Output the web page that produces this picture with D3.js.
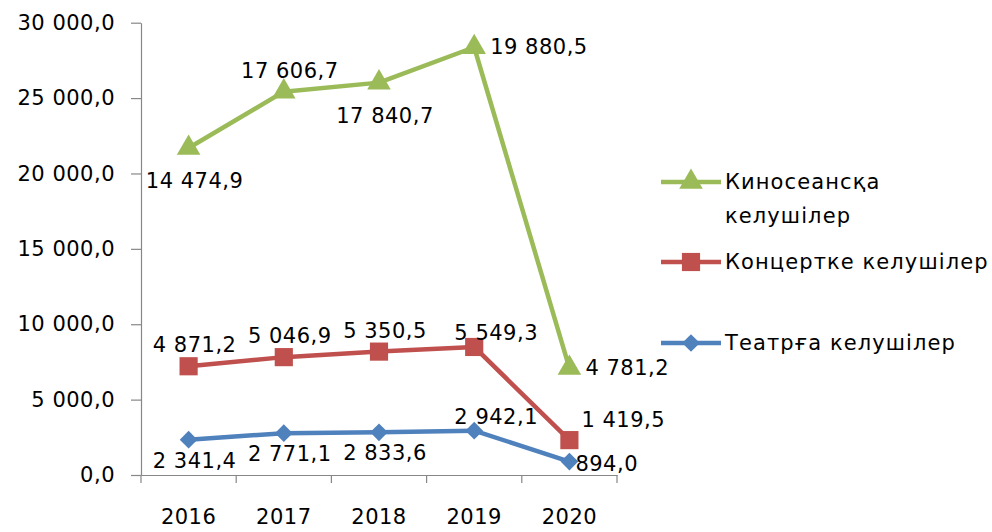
<!DOCTYPE html>
<html>
<head>
<meta charset="utf-8">
<script src="https://cdn.jsdelivr.net/npm/d3@7"></script>
<style>
  body { margin: 0; background: #fff; }
  text { font-family: "DejaVu Sans", sans-serif; fill: #000; letter-spacing: 0.5px; }
</style>
</head>
<body>
<div id="container"></div>
<script>
/* DATA */
const years = ["2016", "2017", "2018", "2019", "2020"];
const theatre = [2341.4, 2771.1, 2833.6, 2942.1, 894.0];
const concert = [4871.2, 5046.9, 5350.5, 5549.3, 1419.5];
const cinema = [14474.9, 17606.7, 17840.7, 19880.5, 4781.2];
const seriesNames = ["Театрға келушілер", "Концертке келушілер", "Киносеансқа келушілер"];
const yTicks = [0, 5000, 10000, 15000, 20000, 25000, 30000];

/* CONSTANTS */
const width = 992, height = 532;
const colors = ["#4F81BD", "#C0504D", "#9BBB59"];
const markers = [d3.symbolDiamond2, d3.symbolSquare, d3.symbolTriangle];
const markerSize = [200, 330, 240];
// label position per point: a = above, b = below, r = right, ar = above-right, ru = right-up, rn = right-near
const labelPos = [
  ["b", "b", "b", "ar", "rn"],
  ["a", "a", "a", "ar", "ru"],
  ["b", "a", "b", "r", "r"]
];

const table = years.map((y, i) => ({year: y, t: theatre[i], c: concert[i], k: cinema[i]}));
const stacked = d3.stack().keys(["t", "c", "k"])(table);
const raw = [theatre, concert, cinema];

const loc = d3.formatLocale({decimal: ",", thousands: "\u00a0", grouping: [3], currency: ["", ""]});
const fmt = loc.format(",.1f");

/* SCALES */
const x = d3.scaleBand().domain(years).range([141, 617]);
const y = d3.scaleLinear().domain([0, 30000]).range([475, 22.7]);
const cx = d => x(d) + x.bandwidth() / 2;

const svg = d3.select("#container").append("svg")
  .attr("width", width)
  .attr("height", height);

// y axis
const yAxis = svg.append("g")
  .attr("transform", `translate(141,0)`)
  .call(d3.axisLeft(y).tickValues(yTicks).tickFormat(fmt).tickSize(10).tickSizeOuter(0).tickPadding(16));
yAxis.select(".domain").attr("stroke", "#878787").attr("stroke-width", 1.2);
yAxis.selectAll(".tick line").attr("stroke", "#878787").attr("stroke-width", 1.2);
yAxis.selectAll("text").style("font-size", "21px").attr("fill", "#000");

// x axis
const xAxis = svg.append("g")
  .attr("transform", `translate(0,475)`)
  .call(d3.axisBottom(x).tickSize(0).tickSizeOuter(0).tickPadding(34));
xAxis.select(".domain").attr("stroke", "#878787").attr("stroke-width", 1.2);
xAxis.selectAll("text").style("font-size", "21px").attr("fill", "#000");
xAxis.selectAll(".edge")
  .data(years.map(d => x(d)).concat([x.range()[1]]))
  .join("line")
  .attr("x1", d => d).attr("x2", d => d)
  .attr("y1", 0).attr("y2", 8)
  .attr("stroke", "#878787").attr("stroke-width", 1.2);

// lines
const line = d3.line().x(d => cx(d.data.year)).y(d => y(d[1]));

stacked.forEach((s, si) => {
  svg.append("path")
    .datum(s)
    .attr("fill", "none")
    .attr("stroke", colors[si])
    .attr("stroke-width", 4.5)
    .attr("stroke-linejoin", "round")
    .attr("d", line);
});

stacked.forEach((s, si) => {
  svg.append("g").selectAll("path")
    .data(s)
    .join("path")
    .attr("transform", d => `translate(${cx(d.data.year)},${y(d[1])})`)
    .attr("d", d3.symbol(markers[si], markerSize[si]))
    .attr("fill", colors[si]);
});

// data labels
const offsets = {
  a: [6, -21, "middle"],
  b: [6, 21, "middle"],
  r: [16, 0, "start"],
  ar: [22, -14, "middle"],
  ru: [12, -20, "start"],
  rn: [6, 2, "start"]
};
stacked.forEach((s, si) => {
  const extra = si === 2 ? 12 : 0;
  svg.append("g").selectAll("text")
    .data(s)
    .join("text")
    .attr("x", (d, i) => cx(d.data.year) + offsets[labelPos[si][i]][0])
    .attr("y", (d, i) => {
      const p = labelPos[si][i];
      return y(d[1]) + offsets[p][1] + (p === "b" ? extra : 0);
    })
    .attr("text-anchor", (d, i) => offsets[labelPos[si][i]][2])
    .attr("dominant-baseline", "central")
    .style("font-size", "21px")
    .text((d, i) => fmt(raw[si][i]));
});

// legend
const legendRows = [
  {i: 2, y: 182, lines: ["Киносеансқа", "келушілер"]},
  {i: 1, y: 262, lines: ["Концертке келушілер"]},
  {i: 0, y: 343, lines: ["Театрға келушілер"]}
];
const legend = svg.append("g");
legendRows.forEach(r => {
  const g = legend.append("g");
  g.append("line")
    .attr("x1", 661).attr("x2", 721)
    .attr("y1", r.y).attr("y2", r.y)
    .attr("stroke", colors[r.i]).attr("stroke-width", 4.5);
  g.append("path")
    .attr("transform", `translate(691,${r.y})`)
    .attr("d", d3.symbol(markers[r.i], markerSize[r.i]))
    .attr("fill", colors[r.i]);
  g.selectAll("text")
    .data(r.lines)
    .join("text")
    .attr("x", 725)
    .attr("y", (d, k) => r.y + k * 34)
    .attr("dominant-baseline", "central")
    .style("font-size", "21px")
    .style("letter-spacing", "1.1px")
    .text(d => d);
});
</script>
</body>
</html>
